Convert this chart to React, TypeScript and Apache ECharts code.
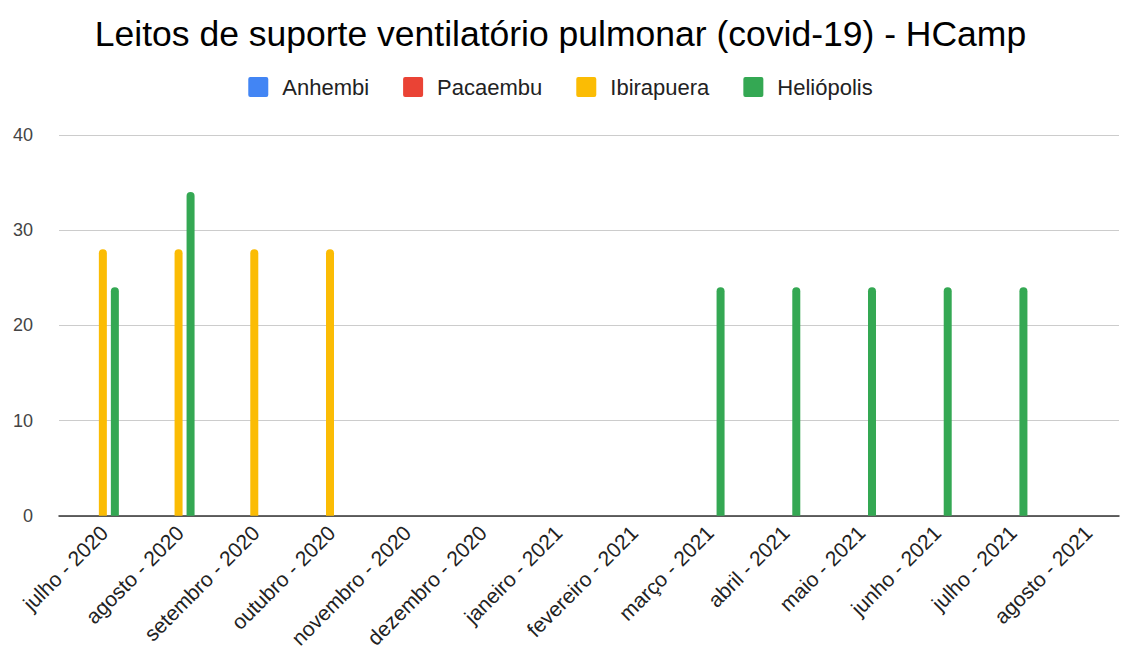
import React, { useEffect, useRef } from "react";
import * as echarts from "echarts";

const categories = [
  "julho - 2020", "agosto - 2020", "setembro - 2020", "outubro - 2020",
  "novembro - 2020", "dezembro - 2020", "janeiro - 2021", "fevereiro - 2021",
  "março - 2021", "abril - 2021", "maio - 2021", "junho - 2021",
  "julho - 2021", "agosto - 2021",
];
const anhembi: (number | null)[] = [null, null, null, null, null, null, null, null, null, null, null, null, null, null];
const pacaembu: (number | null)[] = [null, null, null, null, null, null, null, null, null, null, null, null, null, null];
const ibirapuera: (number | null)[] = [28, 28, 28, 28, null, null, null, null, null, null, null, null, null, null];
const heliopolis: (number | null)[] = [24, 34, null, null, null, null, null, null, 24, 24, 24, 24, 24, null];
const yTicks = { min: 0, max: 40, interval: 10 };

const seriesNames = ["Anhembi", "Pacaembu", "Ibirapuera", "Heliópolis"];
const seriesData = [anhembi, pacaembu, ibirapuera, heliopolis];
const colors = ["#4285f4", "#ea4335", "#fbbc04", "#34a853"];

export default function App() {
  const ref = useRef<HTMLDivElement>(null);
  useEffect(() => {
    document.body.style.margin = "0";
    const chart = echarts.init(ref.current!, null, { renderer: "svg" });
    chart.setOption({
      animation: false,
      color: colors,
      title: {
        text: "Leitos de suporte ventilatório pulmonar (covid-19) - HCamp",
        left: "center",
        top: 11,
        textStyle: { fontFamily: "Liberation Sans, Arial, sans-serif", fontSize: 35.5, fontWeight: "normal", color: "#000" },
      },
      legend: {
        top: 71,
        left: "center",
        icon: "path://M2,0H18Q20,0 20,2V18Q20,20 18,20H2Q0,20 0,18V2Q0,0 2,0Z",
        itemWidth: 20,
        itemHeight: 20,
        itemGap: 34,
        textStyle: { fontFamily: "Liberation Sans, Arial, sans-serif", fontSize: 22, color: "#222", padding: [0, 0, 0, 9] },
        data: seriesNames,
      },
      grid: { left: 59, right: 2, top: 135, bottom: 134, containLabel: false },
      xAxis: {
        type: "category",
        data: categories,
        axisLine: { lineStyle: { color: "#333", width: 1.5 } },
        axisTick: { show: false },
        axisLabel: {
          rotate: 45,
          interval: 0,
          margin: 6,
          verticalAlign: "top",
          fontFamily: "Liberation Sans, Arial, sans-serif",
          fontSize: 21,
          color: "#222",
        },
      },
      yAxis: {
        type: "value",
        min: yTicks.min,
        max: yTicks.max,
        interval: yTicks.interval,
        axisLine: { show: false },
        axisTick: { show: false },
        splitLine: { lineStyle: { color: "#ccc", width: 1 } },
        axisLabel: { margin: 26, fontFamily: "Liberation Sans, Arial, sans-serif", fontSize: 18, color: "#444" },
      },
      series: seriesNames.map((name, i) => ({
        name,
        type: "bar",
        data: seriesData[i],
        barWidth: 8,
        barGap: "50%",
        itemStyle: { color: colors[i], borderRadius: [4, 4, 0, 0] },
      })),
    });
    return () => chart.dispose();
  }, []);
  return <div ref={ref} style={{ width: 1121, height: 651 }} />;
}
